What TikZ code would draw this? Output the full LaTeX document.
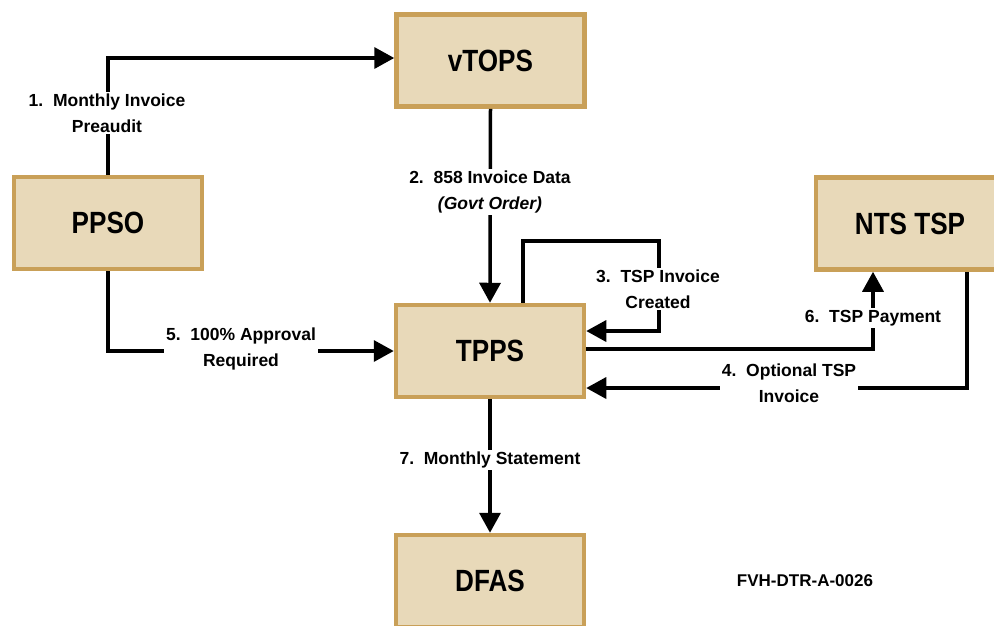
\documentclass[tikz,border=0pt]{standalone}
\usepackage{fontspec}
\setmainfont{Liberation Sans}
\newfontfamily\boxfont[FakeStretch=0.85]{Liberation Sans}
\usetikzlibrary{arrows.meta}
\definecolor{boxfill}{RGB}{232,217,185}
\definecolor{boxline}{RGB}{201,160,88}

\begin{document}
\begin{tikzpicture}[x=1pt, y=-1pt,
	box/.style={draw=boxline, fill=boxfill, line width=4.5pt, minimum width=188pt, minimum height=92pt, font=\boxfont\bfseries\fontsize{30.7}{34}\selectfont},
	lbl/.style={fill=white, align=center, inner sep=2pt, font=\bfseries\fontsize{17.5}{26}\selectfont},
	flow/.style={line width=3.5pt, -{Triangle[length=20pt, width=21pt]}}]
	\useasboundingbox (0,0) rectangle (994,625);

	\node [box] (vtops) at (490.5,60.5) {vTOPS};
	\node [box] (ppso) at (108,223) {PPSO};
	\node [box] (tpps) at (490,351) {TPPS};
	\node [box] (nts) at (910,223.5) {NTS TSP};
	\node [box] (dfas) at (490,581) {DFAS};

	\draw [flow] (ppso.north) |- ([yshift=2.5pt]vtops.west);
	\draw [flow] (vtops.south) -- (tpps.north);
		\coordinate (loop) at (659,241);
		\draw [flow] ([xshift=33pt]tpps.north) |- (loop) |- ([yshift=20pt]tpps.east);
		\draw [flow] ([xshift=57pt]nts.south) |- ([yshift=-37pt]tpps.east);
	\draw [flow] (ppso.south) |- (tpps.west);
		\draw [flow] ([yshift=2pt]tpps.east) -| ([xshift=-37pt]nts.south);
	\draw [flow] (tpps.south) -- (dfas.north);

	\node [lbl] (l1) at (107,113) {1.~~Monthly Invoice\\Preaudit};
	\node [lbl] (l2) at (490,192) {2.~~858 Invoice Data\\\textit{(Govt Order)}};
	\node [lbl] (l3) at (658,289) {3.~~TSP Invoice\\Created};
	\node [lbl] (l4) at (789,383) {4.~~Optional TSP\\Invoice};
	\node [lbl] (l5) at (241,349) {5.~~100\% Approval\\Required};
	\node [lbl] (l6) at (873,318) {6.~~TSP Payment};
	\node [lbl] (l7) at (490,460) {7.~~Monthly Statement};
	\node [font=\bfseries\fontsize{17}{20}\selectfont] (code) at (805,581) {FVH-DTR-A-0026};
\end{tikzpicture}
\end{document}
